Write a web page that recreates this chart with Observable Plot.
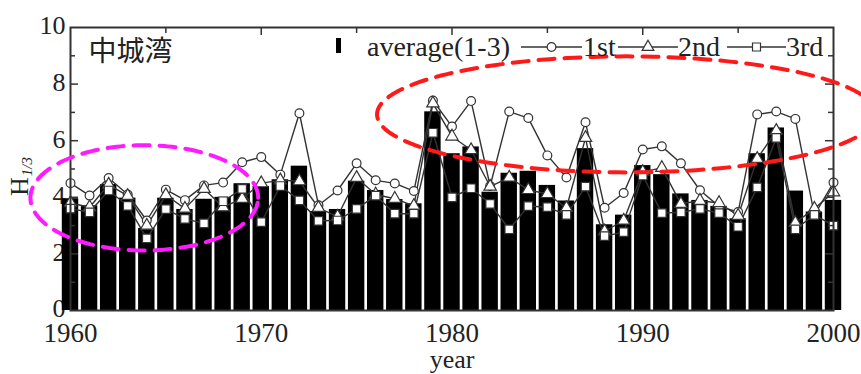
<!DOCTYPE html>
<html>
<head>
<meta charset="utf-8">
<script src="https://cdn.jsdelivr.net/npm/d3@7"></script>
<script src="https://cdn.jsdelivr.net/npm/@observablehq/plot@0.6"></script>
<style>
  body { margin: 0; background: #fff; }
  #chart { width: 861px; height: 374px; }
</style>
</head>
<body>
<div id="chart"></div>
<script>
// Yearly significant wave height H1/3 at Nakagusuku Bay, 1960–2000
const years = [1960, 1961, 1962, 1963, 1964, 1965, 1966, 1967, 1968, 1969,
               1970, 1971, 1972, 1973, 1974, 1975, 1976, 1977, 1978, 1979,
               1980, 1981, 1982, 1983, 1984, 1985, 1986, 1987, 1988, 1989,
               1990, 1991, 1992, 1993, 1994, 1995, 1996, 1997, 1998, 1999, 2000];

// average of the three largest events of each year (bars)
const average = [3.95, 3.70, 4.45, 3.97, 2.90, 3.97, 3.57, 3.93, 4.00, 4.48,
                 4.38, 4.62, 5.10, 3.50, 3.57, 4.57, 4.24, 3.92, 3.77, 7.02,
                 5.54, 5.78, 4.18, 4.85, 4.92, 4.42, 3.87, 5.72, 3.03, 3.37,
                 5.12, 4.80, 4.12, 3.89, 3.68, 3.24, 5.54, 6.45, 4.22, 3.48, 3.89];

// largest, second and third largest event of each year
const first = [4.50, 4.06, 4.68, 4.10, 3.18, 4.27, 3.90, 4.42, 4.52, 5.24,
               5.42, 4.80, 6.97, 3.72, 4.24, 5.20, 4.60, 4.49, 4.22, 7.42,
               6.50, 7.40, 4.40, 7.03, 6.80, 5.48, 4.70, 6.65, 3.63, 4.15,
               5.69, 5.80, 5.20, 4.25, 3.68, 3.48, 6.93, 7.03, 6.77, 3.38, 4.52];
const second = [3.80, 3.65, 4.45, 4.05, 3.00, 4.08, 3.60, 4.30, 3.65, 3.95,
                4.50, 4.60, 4.57, 3.63, 3.32, 4.69, 4.10, 3.95, 3.70, 7.32,
                6.15, 5.67, 4.38, 4.70, 4.26, 4.12, 3.62, 6.10, 2.80, 3.18,
                4.90, 5.04, 3.77, 3.88, 3.80, 3.35, 5.36, 6.35, 3.10, 3.60, 4.18];
const third = [3.60, 3.47, 4.24, 3.70, 2.55, 3.58, 3.24, 3.08, 3.86, 4.30,
               3.12, 4.40, 3.89, 3.17, 3.18, 3.59, 4.06, 3.42, 3.42, 6.28,
               4.00, 4.32, 3.77, 2.87, 3.69, 3.65, 3.38, 4.38, 2.63, 2.77,
               4.77, 3.44, 3.47, 3.59, 3.44, 2.96, 4.35, 6.10, 2.87, 3.38, 3.00];

// axis ticks
const xTickLabels = [1960, 1970, 1980, 1990, 2000];
const xTopTicks = [1965, 1970, 1975, 1980, 1985, 1990, 1995];
const yTickLabels = [0, 2, 4, 6, 8, 10];
const yTicks = [1, 2, 3, 4, 5, 6, 7, 8, 9];

// legend entries and place name
const stationName = "中城湾";
const legendLabels = ["average(1-3)", "1st", "2nd", "3rd"];

// highlighted periods (dashed rings, in data units)
const calmPeriod = {cx: 1963.87, cy: 3.98, rx: 5.97, ry: 1.86};
const stormyPeriod = {cx: 1989.16, cy: 6.93, rx: 13.09, ry: 2.05};

const W = 861, H = 374;
const mL = 70, mR = 28, mT = 27, mB = 64;
const plotW = W - mL - mR, plotH = H - mT - mB;
const serif = "'Liberation Serif', 'Times New Roman', serif";
const ink = "#222";
const lineInk = "#333";

const table = years.map((year, i) => ({
  year, avg: average[i], first: first[i], second: second[i], third: third[i]
}));

function ring(e) {
  return d3.range(0, 181).map(k => {
    const t = 2 * Math.PI * k / 180;
    return {x: e.cx + e.rx * Math.cos(t), y: e.cy + e.ry * Math.sin(t)};
  });
}

const series = [
  {key: "first", symbol: "circle", r: 4.4},
  {key: "second", symbol: "triangle", r: 4.6},
  {key: "third", symbol: "square", r: 4.8}
];

// short inward tick marks drawn along one side of the frame
function sideTicks(side) {
  const marks = [];
  if (side === "left" || side === "right") {
    for (const len of [8, 5]) {
      const vals = yTicks.filter(v => (v % 2 === 0 ? 8 : 5) === len);
      marks.push(Plot.tickY(vals, {y: d => d, stroke: lineInk, strokeWidth: 1.5,
        [side === "left" ? "insetRight" : "insetLeft"]: plotW - len}));
    }
  } else {
    for (const len of [8, 6]) {
      const vals = xTopTicks.filter(v => (v % 10 === 0 ? 8 : 6) === len);
      marks.push(Plot.tickX(vals, {x: d => d, stroke: lineInk, strokeWidth: 1.5,
        insetBottom: plotH - len}));
    }
  }
  return marks;
}

const chart = Plot.plot({
  width: W, height: H,
  marginLeft: mL, marginRight: mR, marginTop: mT, marginBottom: mB,
  x: {domain: [1960, 2000]},
  y: {domain: [0, 10]},
  style: {fontFamily: serif, background: "#fff", color: ink, overflow: "visible"},
  marks: [
    Plot.axisY(yTickLabels, {anchor: "left", tickSize: 0, tickPadding: 5, fontSize: 26, dy: -1.5,
      fontFamily: serif, fill: ink, tickFormat: d => String(d), label: null}),
    Plot.axisX(xTickLabels, {anchor: "bottom", tickSize: 0, tickPadding: 12, fontSize: 27,
      fontFamily: serif, fill: ink, tickFormat: d => String(d), label: null}),
    Plot.rectY(table, {x1: d => d.year - 0.43, x2: d => d.year + 0.43, y1: 0, y2: "avg", fill: "#000"}),
    ...series.map(s => Plot.line(table, {x: "year", y: s.key, stroke: lineInk, strokeWidth: 1.4})),
    ...series.map(s => Plot.dot(table, {x: "year", y: s.key, symbol: s.symbol, r: s.r,
      fill: "#fff", stroke: lineInk, strokeWidth: 1.2})),
    ...sideTicks("left"),
    ...sideTicks("right"),
    ...sideTicks("top"),
    Plot.frame({stroke: lineInk, strokeWidth: 2}),
    Plot.text([stationName], {frameAnchor: "top-left", dx: 18, dy: 25, lineAnchor: "middle",
      textAnchor: "start", fontSize: 28, fontWeight: 400,
      fontFamily: "'Noto Sans CJK JP', sans-serif", fill: ink}),
    Plot.text(["year"], {frameAnchor: "bottom", dy: 49, lineAnchor: "middle",
      fontSize: 26, fontFamily: serif, fill: ink}),
    Plot.line(ring(calmPeriod), {x: "x", y: "y", stroke: "#ff1aff", strokeWidth: 4,
      strokeDasharray: "16,10", curve: "linear"}),
    Plot.line(ring(stormyPeriod), {x: "x", y: "y", stroke: "#ff1a1a", strokeWidth: 4,
      strokeDasharray: "16,10", curve: "linear"})
  ]
});

document.getElementById("chart").appendChild(chart);

// axis title H_1/3 and the legend row, laid out in pixels
const svg = d3.select(chart);
const yTitle = svg.append("text")
  .attr("transform", "translate(28,196) rotate(-90)")
  .attr("text-anchor", "start")
  .attr("font-family", serif).attr("fill", ink);
yTitle.append("tspan").attr("font-size", 26).text("H");
yTitle.append("tspan").attr("font-size", 15).attr("font-style", "italic")
  .attr("dy", 4).attr("dx", 1).text("1/3");

const legend = svg.append("g")
  .attr("font-family", serif).attr("font-size", 28)
  .attr("text-anchor", "start").attr("fill", ink);
const ly = 47;
legend.append("rect").attr("x", 336).attr("y", 38).attr("width", 5).attr("height", 15).attr("fill", "#000");
legend.append("text").attr("x", 367).attr("y", ly + 9).text(legendLabels[0]);
const entries = [
  {x1: 521, x2: 582, text: 583, symbol: d3.symbolCircle, size: 60, label: legendLabels[1]},
  {x1: 618, x2: 678, text: 678, symbol: d3.symbolTriangle, size: 60, label: legendLabels[2]},
  {x1: 727, x2: 786, text: 786, symbol: d3.symbolSquare, size: 64, label: legendLabels[3]}
];
for (const e of entries) {
  legend.append("line").attr("x1", e.x1).attr("x2", e.x2).attr("y1", ly).attr("y2", ly)
    .attr("stroke", lineInk).attr("stroke-width", 1.4);
  legend.append("path").attr("d", d3.symbol(e.symbol, e.size)())
    .attr("transform", `translate(${(e.x1 + e.x2) / 2},${ly})`)
    .attr("fill", "#fff").attr("stroke", lineInk).attr("stroke-width", 1.2);
  legend.append("text").attr("x", e.text).attr("y", ly + 9).text(e.label);
}
</script>
</body>
</html>
